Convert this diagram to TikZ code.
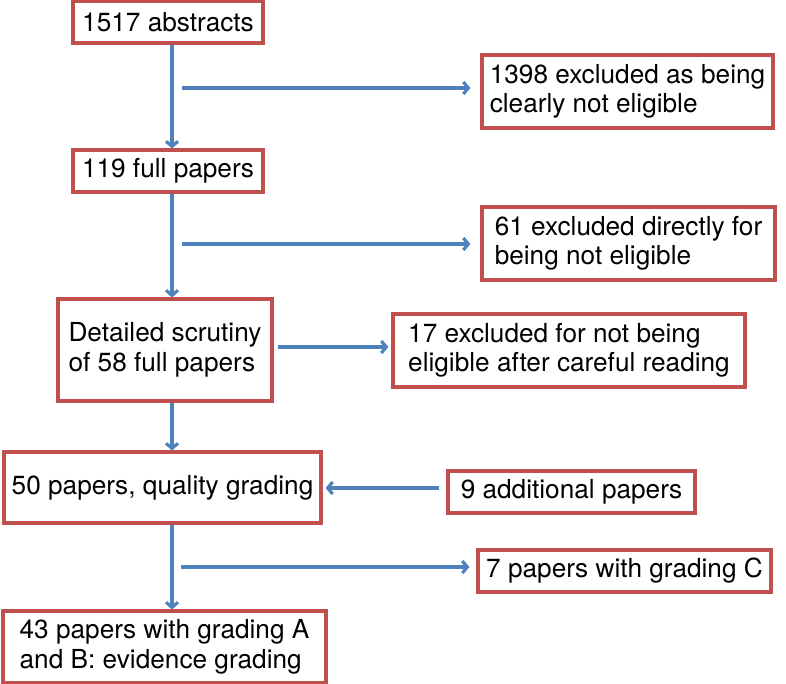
\documentclass[tikz,border=0pt]{standalone}
\usepackage{fontspec}
\setmainfont{TeX Gyre Heros}
\usetikzlibrary{arrows.meta}
\definecolor{boxred}{RGB}{192,80,77}
\definecolor{arrblue}{RGB}{79,129,189}

\begin{document}
\begin{tikzpicture}[x=1pt,y=-1pt,
    box/.style={draw=boxred, line width=3.2pt, align=left, inner sep=0pt,
      font=\fontsize{26.2}{29.5}\selectfont},
    arr/.style={draw=arrblue, line width=3.2pt, -{Straight Barb[length=5pt,width=12pt]}}]
            \useasboundingbox (0,0) rectangle (786,684);
            % main column
            \node[box, minimum width=190pt, minimum height=42pt] (abs) at (168,22) {1517 abstracts};
            \node[box, minimum width=190pt, minimum height=42pt] (full) at (168,171) {119 full papers};
            \node[box, minimum width=214pt, minimum height=102pt] (scrut) at (165,350) {Detailed scrutiny\\of 58 full papers};
            \node[box, minimum width=317pt, minimum height=71pt] (qual) at (162.5,487.5) {50 papers, quality grading};
            \node[box, minimum width=323pt, minimum height=72pt] (evid) at (164.5,647) {43 papers with grading A\\and B: evidence grading};
            % side boxes
            \node[box, minimum width=291pt, minimum height=73pt] (excla) at (627.5,91.5) {1398 excluded as being\\clearly not eligible};
            \node[box, minimum width=293pt, minimum height=73pt] (exclb) at (628.5,243.5) {61 excluded directly for\\being not eligible};
            \node[box, minimum width=352pt, minimum height=73pt] (exclc) at (569,350.5) {17 excluded for not being\\eligible after careful reading};
            \node[box, minimum width=247pt, minimum height=42pt] (addl) at (571.5,492) {9 additional papers};
            \node[box, minimum width=293pt, minimum height=42pt] (gradc) at (624.5,571) {7 papers with grading C};
            % trunk and branch points
            \coordinate (trunk) at (172,0);
            \coordinate (ba) at (182,88);
            \coordinate (bb) at (182,244);
            \coordinate (bc) at (181,567);
            \draw[arr] (abs.south -| trunk) -- (full.north -| trunk);
            \draw[arr] (full.south -| trunk) -- (scrut.north -| trunk);
            \draw[arr] (scrut.south -| trunk) -- (qual.north -| trunk);
            \draw[arr] (qual.south -| trunk) -- (evid.north -| trunk);
            \draw[arr, shorten >=10pt] (ba) -- (ba -| excla.west);
            \draw[arr, shorten >=10pt] (bb) -- (bb -| exclb.west);
            \draw[arr, shorten >=7pt] (bc) -- (bc -| gradc.west);
            \draw[arr, shorten <=4pt, shorten >=3pt] ([yshift=3pt]scrut.east) -- ([yshift=3pt]scrut.east -| exclc.west);
            \draw[arr, shorten <=7pt, shorten >=3pt] ([yshift=4pt]addl.west) -- ([yshift=4pt]addl.west -| qual.east);
\end{tikzpicture}
\end{document}
